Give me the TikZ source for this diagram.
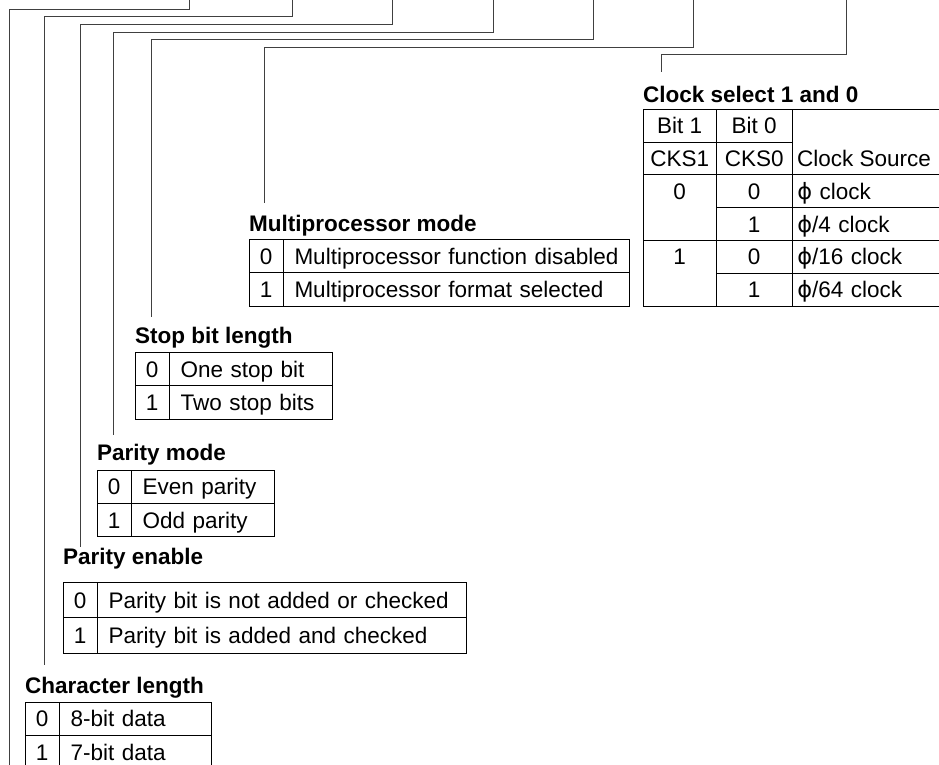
\documentclass[tikz,border=0pt]{standalone}
\usepackage{fontspec}
\setmainfont{Liberation Sans}
\newfontfamily\phifont{DejaVu Sans}
\newcommand\cphi{{\phifont ϕ}}
\usetikzlibrary{positioning}

\begin{document}
\begin{tikzpicture}[
    x=1pt, y=-1pt,
    leader/.style={draw=black!75, line width=1pt},
    head/.style={font=\fontsize{22.5}{26}\selectfont\bfseries, inner sep=0pt,
                 anchor=base west},
    cell/.style={draw, line width=0.9pt, inner sep=0pt, outer sep=0pt,
                 minimum height=33.4pt, anchor=north west,
                 font=\fontsize{22.5}{26}\selectfont, text height=16pt, text depth=0pt},
    num/.style={cell, minimum width=34.5pt},
    desc/.style={cell, text width=#1, inner xsep=11pt, align=left},
    txt/.style={font=\fontsize{22.5}{26}\selectfont, inner sep=0pt,
                text height=16pt, text depth=0pt}
  ]
  \path[fill=white, use as bounding box] (0,0) rectangle (939,765);

  % Character length
  \node[head] (cl-t) at (25,693) {Character length};
  \node[num, below=9pt of cl-t.base west, anchor=north west] (cl0) {0};
  \node[desc=130pt, right=0pt of cl0] (cl0d) {8-bit data};
  \node[num, below=0pt of cl0] (cl1) {1};
  \node[desc=130pt, right=0pt of cl1] (cl1d) {7-bit data};

  % Parity enable
  \node[head] (pe-t) at (63,564) {Parity enable};
  \node[num, minimum height=35.4pt, below=18.5pt of pe-t.base west,
        anchor=north west] (pe0) {0};
  \node[desc=347pt, minimum height=35.4pt, right=0pt of pe0] (pe0d)
    {\mbox{Parity bit is not added or checked}};
  \node[num, minimum height=35.4pt, below=0pt of pe0] (pe1) {1};
  \node[desc=347pt, minimum height=35.4pt, right=0pt of pe1] (pe1d)
    {\mbox{Parity bit is added and checked}};

  % Parity mode
  \node[head] (pm-t) at (97,460.5) {Parity mode};
  \node[num, below=9.5pt of pm-t.base west, anchor=north west] (pm0) {0};
  \node[desc=121pt, right=0pt of pm0] (pm0d) {\mbox{Even parity}};
  \node[num, below=0pt of pm0] (pm1) {1};
  \node[desc=121pt, right=0pt of pm1] (pm1d) {\mbox{Odd parity}};

  % Stop bit length
  \node[head] (sb-t) at (135,343.5) {Stop bit length};
  \node[num, below=8.8pt of sb-t.base west, anchor=north west] (sb0) {0};
  \node[desc=141pt, right=0pt of sb0] (sb0d) {\mbox{One stop bit}};
  \node[num, below=0pt of sb0] (sb1) {1};
  \node[desc=141pt, right=0pt of sb1] (sb1d) {\mbox{Two stop bits}};

  % Multiprocessor mode
  \node[head] (mp-t) at (249,231) {Multiprocessor mode};
  \node[num, below=8.5pt of mp-t.base west, anchor=north west] (mp0) {0};
  \node[desc=323.6pt, right=0pt of mp0] (mp0d) {\mbox{Multiprocessor function disabled}};
  \node[num, below=0pt of mp0] (mp1) {1};
  \node[desc=323.6pt, right=0pt of mp1] (mp1d) {\mbox{Multiprocessor format selected}};

  % Clock select 1 and 0
  \node[head] (ck-t) at (643,102.3) {Clock select 1 and 0};
  \node[cell, minimum width=73.3pt, minimum height=32.8pt,
        below=7pt of ck-t.base west, anchor=north west] (ck-b1) {Bit 1};
  \node[cell, minimum width=75.7pt, minimum height=32.8pt,
        right=0pt of ck-b1] (ck-b0) {Bit 0};
  \node[cell, minimum width=155pt, minimum height=65.6pt] (ck-h) at (ck-b0.north east) {};
  \node[cell, minimum width=73.3pt, minimum height=32.8pt,
        below=0pt of ck-b1] (ck-c1) {CKS1};
  \node[cell, minimum width=75.7pt, minimum height=32.8pt,
        below=0pt of ck-b0] (ck-c0) {CKS0};
  \node[txt, right=5pt of ck-c0] (ck-src) {Clock Source};

  \node[cell, minimum width=73.3pt, minimum height=65.6pt] (ck-s0) at (ck-c1.south west) {};
  \node[txt] (ck-s0v) at ([yshift=-16.4pt]ck-s0.north) {0};
  \node[cell, minimum width=73.3pt, minimum height=65.6pt] (ck-s1) at (ck-s0.south west) {};
  \node[txt] (ck-s1v) at ([yshift=-16.4pt]ck-s1.north) {1};

  \node[cell, minimum width=75.7pt, minimum height=32.8pt] (ck-00) at (ck-s0.north east) {0};
  \node[cell, minimum width=75.7pt, minimum height=32.8pt, below=0pt of ck-00] (ck-01) {1};
  \node[cell, minimum width=75.7pt, minimum height=32.8pt, below=0pt of ck-01] (ck-10) {0};
  \node[cell, minimum width=75.7pt, minimum height=32.8pt, below=0pt of ck-10] (ck-11) {1};
  \node[desc=144.4pt, inner xsep=5.3pt, minimum height=32.8pt, right=0pt of ck-00] (ck-00d) {\mbox{\cphi{} clock}};
  \node[desc=144.4pt, inner xsep=5.3pt, minimum height=32.8pt, right=0pt of ck-01] (ck-01d) {\mbox{\cphi/4 clock}};
  \node[desc=144.4pt, inner xsep=5.3pt, minimum height=32.8pt, right=0pt of ck-10] (ck-10d) {\mbox{\cphi/16 clock}};
  \node[desc=144.4pt, inner xsep=5.3pt, minimum height=32.8pt, right=0pt of ck-11] (ck-11d) {\mbox{\cphi/64 clock}};

  % leaders from the register bits
  \coordinate (b7) at (189,-2);
  \coordinate (b6) at (292.7,-2);
  \coordinate (b5) at (392,-2);
  \coordinate (b4) at (493.3,-2);
  \coordinate (b3) at (593.3,-2);
  \coordinate (b2) at (693.3,-2);
  \coordinate (b10) at (846.7,-2);
  \coordinate (b7-in) at (9,775);
  \coordinate (cl-in) at (44.7,665);
  \coordinate (pe-in) at (80,547);
  \coordinate (pm-in) at (113,435);
  \coordinate (sb-in) at (151,317);
  \coordinate (mp-in) at (264,203);
  \coordinate (ck-in) at (661.3,72.3);

  \draw[leader] (b7) -- ++(0,11.3) -| (b7-in);
  \draw[leader] (b6) -- ++(0,18.7) -| (cl-in);
  \draw[leader] (b5) -- ++(0,26.3) -| (pe-in);
  \draw[leader] (b4) -- ++(0,34.3) -| (pm-in);
  \draw[leader] (b3) -- ++(0,42) -| (sb-in);
  \draw[leader] (b2) -- ++(0,49.3) -| (mp-in);
  \draw[leader] (b10) -- ++(0,56.3) -| (ck-in);
\end{tikzpicture}
\end{document}
